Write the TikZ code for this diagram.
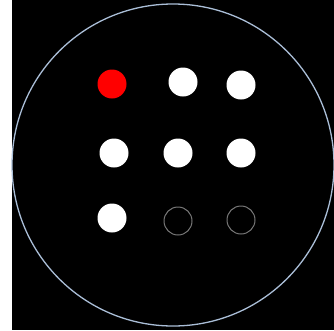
\documentclass[tikz,border=0pt]{standalone}
\usepackage{tikz}
\usetikzlibrary{positioning}

\definecolor{rimblue}{RGB}{170,190,215}
\definecolor{offgrey}{RGB}{120,120,120}

\begin{document}
\begin{tikzpicture}[
    x=1pt, y=-1pt,
    dot/.style={
        circle,
        inner sep=0pt,
        minimum size=29pt
    },
    litdot/.style={dot, fill=white},
    reddot/.style={dot, fill=red},
    offdot/.style={dot, draw=offgrey, line width=1pt, minimum size=28pt}
]

% page and dark face
\fill[white] (0,0) rectangle (334,330);
\fill[black] (12,0) rectangle (334,330);
\useasboundingbox (0,0) rectangle (334,330);

% rim of the dial
\node[circle, draw=rimblue, line width=1.3pt, minimum size=322pt, inner sep=0pt]
    (rim) at (173,165) {};

% top row
\node[reddot] (d11) at (112,84) {};
\node[litdot] (d12) at (183,82) {};
\node[litdot] (d13) at (241,85) {};

% middle row
\node[litdot] (d21) at (114,153) {};
\node[litdot] (d22) at (178,153) {};
\node[litdot] (d23) at (241,153) {};

% bottom row
\node[litdot] (d31) at (112,218) {};
\node[offdot] (d32) at (178,221) {};
\node[offdot] (d33) at (241,220) {};

\end{tikzpicture}
\end{document}
